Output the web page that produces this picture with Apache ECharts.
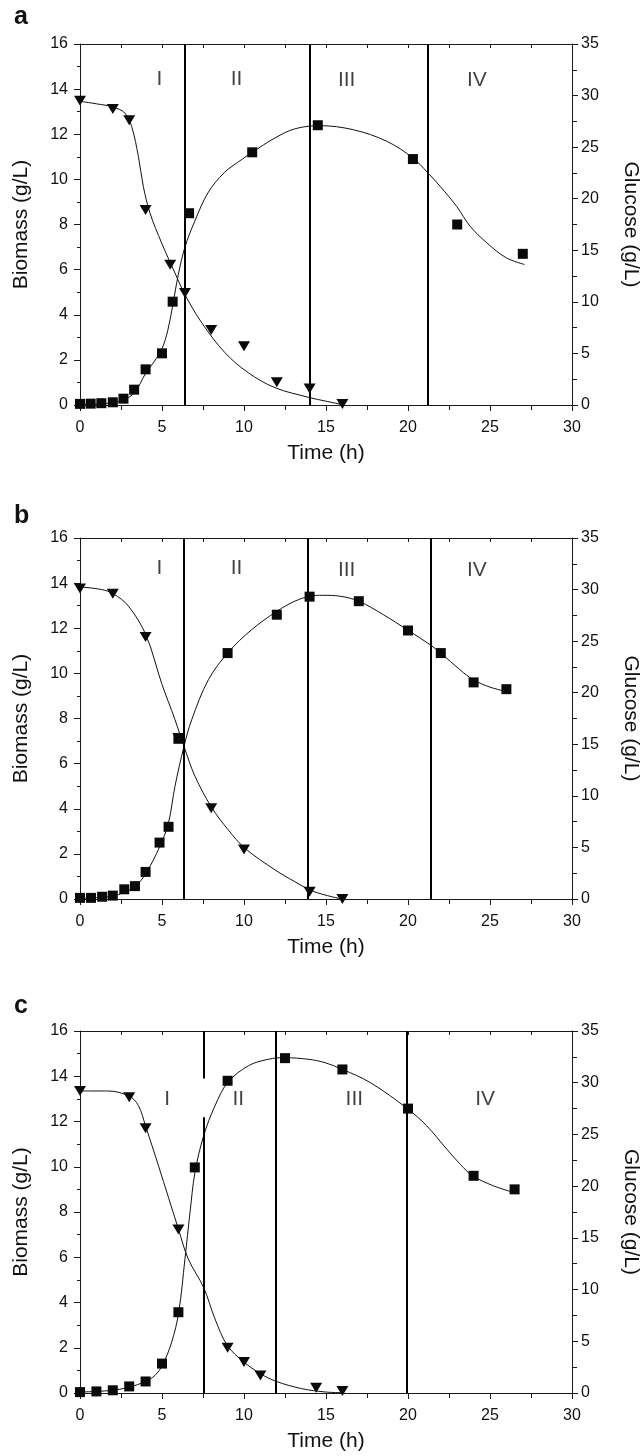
<!DOCTYPE html>
<html>
<head>
<meta charset="utf-8">
<script src="https://cdn.jsdelivr.net/npm/echarts@6/dist/echarts.min.js"></script>
<style>
html,body{margin:0;padding:0;background:#fff;}
#chart{width:643px;height:1456px;}
</style>
</head>
<body>
<div id="chart"></div>
<script>
// ---------- DATA ----------
// Panel a
const aBiomass = [[0,0.05],[0.65,0.06],[1.3,0.08],[2,0.12],[2.65,0.28],[3.3,0.68],[4,1.58],[5,2.29],[5.65,4.58],[6.65,8.5],[10.5,11.2],[14.5,12.4],[20.3,10.9],[23,8.0],[27,6.7]];
const aGlucose = [[0,29.5],[2,28.7],[3,27.6],[4,18.9],[5.5,13.6],[6.4,10.85],[8,7.26],[10,5.7],[12,2.2],[14,1.6],[16,0.1]];
const aBiomassCurve = [[0,0.03],[1,0.05],[2,0.1],[2.66,0.22],[3.33,0.55],[4,1.4],[4.5,1.9],[5,2.5],[5.35,3.3],[5.65,4.4],[6,5.8],[6.4,7.0],[7,8.15],[7.8,9.4],[8.8,10.3],[9.9,10.9],[10.5,11.2],[11.9,11.84],[13.1,12.24],[14.6,12.38],[16.67,12.2],[18.7,11.69],[20.3,10.95],[21.16,10.33],[21.95,9.7],[22.97,8.8],[23.78,7.93],[24.8,7.19],[26,6.52],[27.1,6.23]];
const aGlucoseCurve = [[0,29.45],[1,29.2],[2,28.9],[2.74,28.3],[3.15,27.0],[3.56,24.1],[3.86,21.2],[4.27,18.6],[4.98,15.7],[5.79,12.8],[6.4,10.7],[7.42,7.98],[8.84,5.07],[10.26,3.13],[11.89,1.68],[14.02,0.71],[14.94,0.39],[15.96,0.05]];
const aPhases = [6.4, 14, 21.2];
const aPhaseLabels = [['I',4.84,14.45],['II',9.55,14.45],['III',16.26,14.4],['IV',24.2,14.4]];

// Panel b
const bBiomass = [[0,0.05],[0.67,0.05],[1.35,0.1],[2,0.15],[2.7,0.43],[3.35,0.57],[4,1.2],[4.85,2.5],[5.4,3.2],[6,7.1],[9,10.9],[12,12.6],[14,13.4],[17,13.2],[20,11.9],[22,10.9],[24,9.6],[26,9.3]];
const bGlucose = [[0,30.1],[2,29.6],[4,25.4],[6,15.6],[8,8.8],[10,4.8],[14,0.7],[16,0]];
const bBiomassCurve = [[0,0.03],[1,0.06],[2,0.13],[2.7,0.3],[3.37,0.55],[4.02,1.14],[4.86,2.32],[5.39,3.36],[5.79,4.99],[6.34,6.76],[6.81,7.94],[7.83,9.72],[9.04,10.93],[10.47,11.94],[12,12.75],[13.1,13.2],[14.02,13.42],[14.8,13.46],[15.85,13.42],[17,13.2],[18.5,12.6],[20,11.91],[21.35,11.27],[22,10.9],[23.17,10.16],[23.98,9.72],[25,9.39],[26,9.2]];
const bGlucoseCurve = [[0,30.26],[1.32,30.0],[2.03,29.6],[2.95,28.4],[4.02,25.6],[4.98,20.9],[5.79,17.4],[6.34,14.8],[7.01,11.9],[8.03,8.87],[9.04,6.7],[10.06,4.92],[11.89,2.82],[13.1,1.68],[14.02,0.87],[14.94,0.39],[15.96,0.0]];
const bPhases = [6.35, 13.9, 21.4];
const bPhaseLabels = [['I',4.84,14.68],['II',9.55,14.68],['III',16.26,14.58],['IV',24.2,14.58]];

// Panel c
const cBiomass = [[0,0.04],[1,0.07],[2,0.12],[3,0.29],[4,0.51],[5,1.3],[6,3.57],[7,9.97],[9,13.8],[12.5,14.8],[16,14.3],[20,12.57],[24,9.6],[26.5,9.0]];
const cGlucose = [[0,29.2],[3,28.6],[4,25.6],[6,15.8],[9,4.37],[10,3.0],[11,1.7],[14.4,0.5],[16,0.2]];
const cBiomassCurve = [[0,0.04],[1,0.07],[2,0.12],[3,0.26],[4,0.51],[4.57,0.78],[5.02,1.22],[5.59,2.25],[6.02,3.57],[6.4,5.93],[6.71,7.99],[7.01,9.75],[7.54,11.37],[8.23,12.69],[9,13.72],[10.26,14.46],[11.48,14.75],[12.48,14.82],[13.92,14.75],[14.94,14.6],[15.98,14.31],[17.7,13.72],[19.96,12.57],[21.14,11.81],[22.36,10.78],[23.2,10.1],[23.94,9.6],[25.2,9.16],[26.42,8.87]];
const cGlucoseCurve = [[0,29.2],[1.73,29.2],[3,28.7],[3.56,27.8],[4,25.8],[4.78,22.0],[6,15.86],[6.6,12.96],[7.54,10.2],[8.23,7.17],[8.98,4.6],[10,2.99],[11,1.87],[11.95,1.13],[13.52,0.42],[14.94,0.1],[15.96,0.03]];
const cPhases = [7.55, 11.95, 19.9];
const cPhaseGap = [13.9, 12.19]; // white gap in first phase line of panel c
const cPhaseLabels = [['I',5.32,13.0],['II',9.65,13.0],['III',16.73,13.0],['IV',24.7,13.0]];

const panelLetters = ['a','b','c'];
const timeTicks = {min:0, max:30, interval:5};
const biomassTicks = {min:0, max:16, interval:2};
const glucoseTicks = {min:0, max:35, interval:5};

// ---------- LAYOUT ----------
const FONT = "'Liberation Sans', Arial, Helvetica, sans-serif";
const AX = '#1a1a1a';
const TXT = '#111';
const panels = [
  {top:44, height:361, biomass:aBiomass, glucose:aGlucose, bCurve:aBiomassCurve, gCurve:aGlucoseCurve, phases:aPhases, labels:aPhaseLabels, gap:null, letterTop:0},
  {top:538, height:361, biomass:bBiomass, glucose:bGlucose, bCurve:bBiomassCurve, gCurve:bGlucoseCurve, phases:bPhases, labels:bPhaseLabels, gap:null, letterTop:499},
  {top:1031, height:362, biomass:cBiomass, glucose:cGlucose, bCurve:cBiomassCurve, gCurve:cGlucoseCurve, phases:cPhases, labels:cPhaseLabels, gap:cPhaseGap, letterTop:989}
];

const option = {
  animation:false,
  backgroundColor:'#fff',
  title:[], grid:[], xAxis:[], yAxis:[], series:[]
};

panels.forEach((p,i)=>{
  option.title.push({text:panelLetters[i], left:9, top:p.letterTop,
    textStyle:{fontSize:25, fontWeight:'bold', color:'#111', fontFamily:FONT}});
  option.grid.push({left:80, width:492, top:p.top, height:p.height, outerBoundsMode:'none', containLabel:false});
  const lineStyle = {color:AX, width:1};
  option.xAxis.push({
    gridIndex:i, type:'value', position:'bottom', min:timeTicks.min, max:timeTicks.max, interval:timeTicks.interval,
    axisLine:{show:true, onZero:false, lineStyle},
    axisTick:{show:true, inside:false, length:6, lineStyle},
    minorTick:{show:true, splitNumber:2, length:5, lineStyle},
    splitLine:{show:false}, minorSplitLine:{show:false},
    axisLabel:{fontSize:16, color:TXT, margin:15, fontFamily:FONT},
    name:'Time (h)', nameLocation:'middle', nameGap:38,
    nameTextStyle:{fontSize:21, color:TXT, fontFamily:FONT}
  });
  option.xAxis.push({
    gridIndex:i, type:'value', position:'top', min:0, max:30, interval:2.5,
    axisLine:{show:true, onZero:false, lineStyle},
    axisTick:{show:true, inside:true, length:4, lineStyle},
    axisLabel:{show:false}, splitLine:{show:false}
  });
  option.yAxis.push({
    gridIndex:i, type:'value', position:'left', min:biomassTicks.min, max:biomassTicks.max, interval:biomassTicks.interval,
    axisLine:{show:true, onZero:false, lineStyle},
    axisTick:{show:true, inside:false, length:6, lineStyle},
    minorTick:{show:true, splitNumber:2, length:3, lineStyle},
    splitLine:{show:false},
    axisLabel:{fontSize:16, color:TXT, margin:12, fontFamily:FONT},
    name:'Biomass (g/L)', nameLocation:'middle', nameGap:48, nameRotate:90,
    nameTextStyle:{fontSize:21, color:TXT, fontFamily:FONT}
  });
  option.yAxis.push({
    gridIndex:i, type:'value', position:'right', min:glucoseTicks.min, max:glucoseTicks.max, interval:glucoseTicks.interval,
    axisLine:{show:true, onZero:false, lineStyle},
    axisTick:{show:true, inside:false, length:6, lineStyle},
    minorTick:{show:true, splitNumber:2, length:5, lineStyle},
    splitLine:{show:false},
    axisLabel:{fontSize:16, color:TXT, margin:9, fontFamily:FONT},
    name:'Glucose (g/L)', nameLocation:'middle', nameGap:48, nameRotate:-90,
    nameTextStyle:{fontSize:21, color:TXT, fontFamily:FONT}
  });
  const xb = 2*i, yl = 2*i, yr = 2*i+1;
  // phase lines
  let mlData = [];
  p.phases.forEach((t,k)=>{
    if (p.gap && k===0) {
      mlData.push([{coord:[t,16]},{coord:[t,p.gap[0]]}]);
      mlData.push([{coord:[t,p.gap[1]]},{coord:[t,0]}]);
    } else {
      mlData.push({xAxis:t});
    }
  });
  option.series.push({
    type:'line', xAxisIndex:xb, yAxisIndex:yl, data:p.bCurve, smooth:0.35, symbol:'none',
    lineStyle:{color:'#111', width:1}, z:3,
    markLine:{silent:true, symbol:['none','none'], label:{show:false},
      lineStyle:{color:'#000', width:2, type:'solid', opacity:1}, emphasis:{disabled:true}, data:mlData}
  });
  option.series.push({
    type:'line', xAxisIndex:xb, yAxisIndex:yr, data:p.gCurve, smooth:0.35, symbol:'none',
    lineStyle:{color:'#111', width:1}, z:3
  });
  option.series.push({
    type:'scatter', xAxisIndex:xb, yAxisIndex:yl, data:p.biomass, symbol:'rect', symbolSize:10,
    itemStyle:{color:'#0a0a0a', opacity:1}, z:5
  });
  option.series.push({
    type:'scatter', xAxisIndex:xb, yAxisIndex:yr, data:p.glucose, symbol:'triangle', symbolRotate:180, symbolSize:[12,10],
    itemStyle:{color:'#0a0a0a', opacity:1}, z:5
  });
  option.series.push({
    type:'scatter', xAxisIndex:xb, yAxisIndex:yl, symbolSize:0,
    data:p.labels.map(l=>({name:l[0], value:[l[1],l[2]]})),
    label:{show:true, position:'inside', formatter:'{b}', fontSize:21, color:TXT, fontFamily:FONT}, z:6, silent:true
  });
});

const chart = echarts.init(document.getElementById('chart'), null, {renderer:'canvas'});
chart.setOption(option);
</script>
</body>
</html>
